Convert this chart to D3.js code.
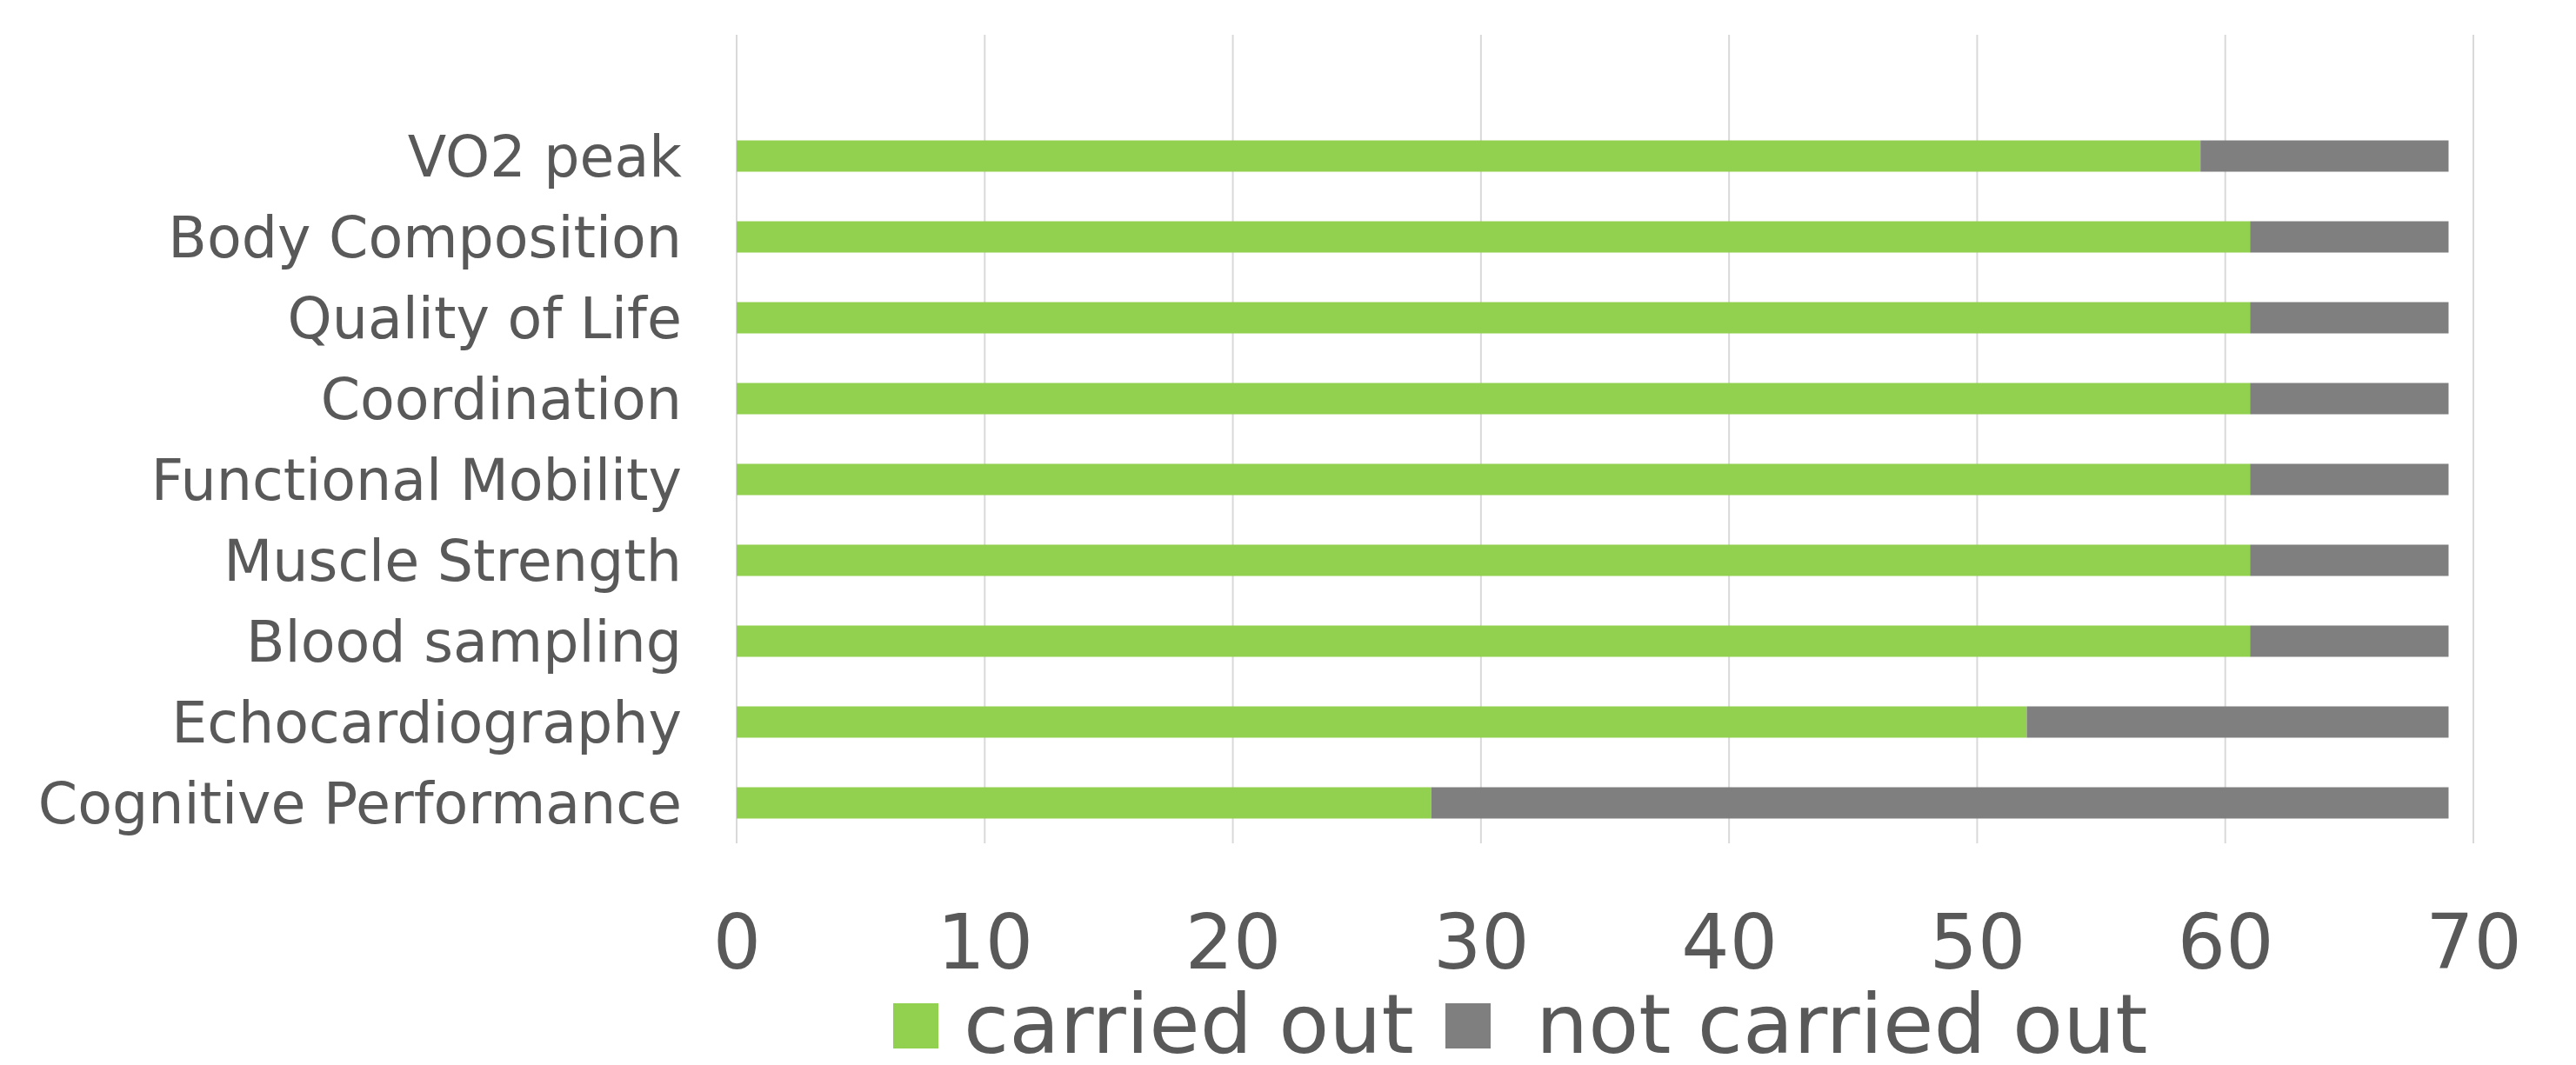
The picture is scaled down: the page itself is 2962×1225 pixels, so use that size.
<!DOCTYPE html>
<html>
<head>
<meta charset="utf-8">
<script src="https://cdn.jsdelivr.net/npm/d3@7"></script>
<style>
  html, body { margin: 0; padding: 0; background: #ffffff; }
  svg { display: block; }
</style>
</head>
<body>
<svg id="chart" width="2962" height="1225"></svg>
<script>
const categories = ["VO2 peak", "Body Composition", "Quality of Life", "Coordination",
  "Functional Mobility", "Muscle Strength", "Blood sampling", "Echocardiography",
  "Cognitive Performance"];
const carriedOut = [59, 61, 61, 61, 61, 61, 61, 52, 28];
const notCarriedOut = [10, 8, 8, 8, 8, 8, 8, 17, 41];
const seriesNames = ["carried out", "not carried out"];
const xTicks = [0, 10, 20, 30, 40, 50, 60, 70];

const colors = ["#92d050", "#7f7f7f"];
const textColor = "#595959";
const font = "'DejaVu Sans', Verdana, sans-serif";

const svg = d3.select("#chart");
const plot = { left: 847, right: 2844, top: 40, bottom: 970 };

const x = d3.scaleLinear().domain([0, 70]).range([plot.left, plot.right]);
const y = d3.scaleBand().domain(categories).range([plot.top + 93, plot.bottom])
  .paddingInner(0.613).paddingOuter(0.3065);

// gridlines
svg.append("g").selectAll("line").data(xTicks).join("line")
  .attr("x1", d => x(d)).attr("x2", d => x(d))
  .attr("y1", plot.top).attr("y2", plot.bottom)
  .attr("stroke", "#d9d9d9").attr("stroke-width", 2);

// stacked data
const rows = categories.map((c, i) => ({ cat: c, a: carriedOut[i], b: notCarriedOut[i] }));
const stack = d3.stack().keys(["a", "b"])(rows);

svg.append("g").selectAll("g").data(stack).join("g")
  .attr("fill", (d, i) => colors[i])
  .selectAll("rect").data(d => d).join("rect")
  .attr("x", d => x(d[0]))
  .attr("width", d => x(d[1]) - x(d[0]))
  .attr("y", d => y(d.data.cat))
  .attr("height", y.bandwidth());

// category labels
svg.append("g").selectAll("text").data(categories).join("text")
  .attr("x", 784)
  .attr("y", d => y(d) + y.bandwidth() / 2)
  .attr("dy", "0.36em")
  .attr("text-anchor", "end")
  .attr("font-family", font)
  .attr("font-size", 65)
  .attr("fill", textColor)
  .text(d => d);

// x axis tick labels
const xAxis = d3.axisBottom(x).tickValues(xTicks).tickSize(0).tickPadding(0);
const gx = svg.append("g").call(xAxis);
gx.select(".domain").remove();
gx.selectAll("text")
  .attr("y", 1114)
  .attr("dy", null)
  .attr("font-family", font)
  .attr("font-size", 87)
  .attr("fill", textColor);

// legend
const legendItems = [
  { name: seriesNames[0], color: colors[0], sx: 1027, tx: 1108 },
  { name: seriesNames[1], color: colors[1], sx: 1662, tx: 1766 }
];
const lg = svg.append("g");
lg.selectAll("rect").data(legendItems).join("rect")
  .attr("x", d => d.sx).attr("y", 1154)
  .attr("width", 52).attr("height", 52)
  .attr("fill", d => d.color);
lg.selectAll("text").data(legendItems).join("text")
  .attr("x", d => d.tx).attr("y", 1211)
  .attr("font-family", font)
  .attr("font-size", 95)
  .attr("fill", textColor)
  .text(d => d.name);
</script>
</body>
</html>
